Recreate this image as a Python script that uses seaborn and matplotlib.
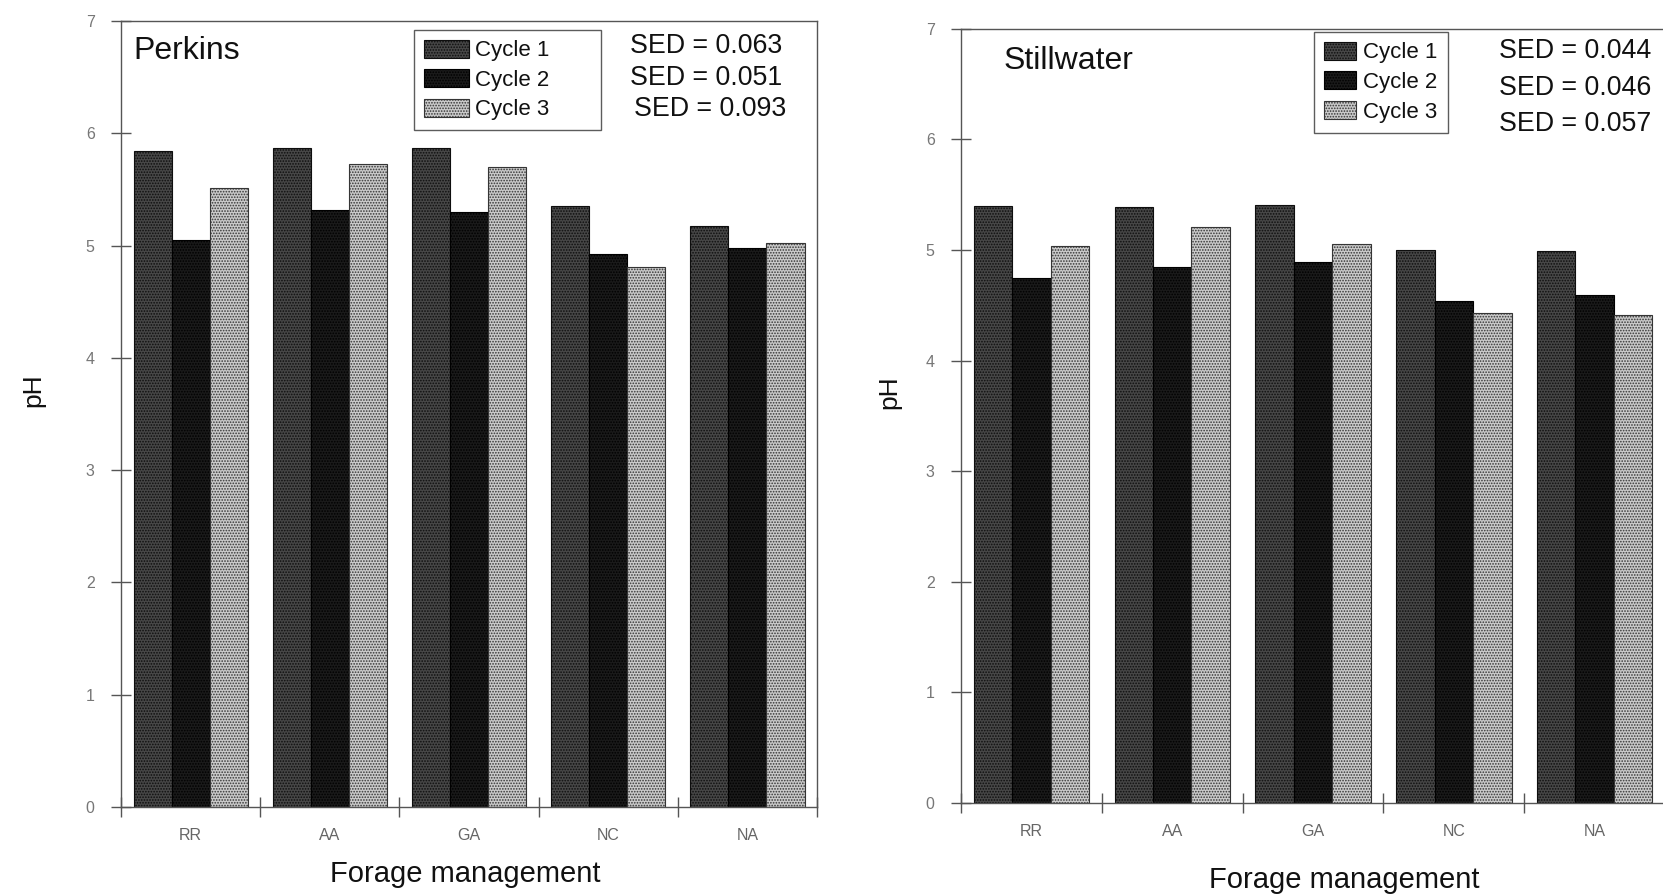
import numpy as np
import pandas as pd
import matplotlib
matplotlib.use("Agg")
import matplotlib.pyplot as plt
from matplotlib.patches import Patch
from matplotlib.ticker import FixedLocator
import seaborn as sns

# Forage management treatments and sampling cycles
managements = ["RR", "AA", "GA", "NC", "NA"]
cycles = ["Cycle 1", "Cycle 2", "Cycle 3"]

# Soil pH, Perkins site
perkins_c1 = [5.84, 5.87, 5.87, 5.35, 5.18]
perkins_c2 = [5.05, 5.32, 5.30, 4.93, 4.98]
perkins_c3 = [5.51, 5.73, 5.70, 4.81, 5.02]

# Soil pH, Stillwater site
stillwater_c1 = [5.40, 5.39, 5.41, 5.00, 4.99]
stillwater_c2 = [4.75, 4.85, 4.89, 4.54, 4.59]
stillwater_c3 = [5.04, 5.21, 5.05, 4.43, 4.41]

perkins_sed = ["SED = 0.063", "SED = 0.051", "SED = 0.093"]
stillwater_sed = ["SED = 0.044", "SED = 0.046", "SED = 0.057"]

y_ticks = [0, 1, 2, 3, 4, 5, 6, 7]

sns.set_theme(style="white")
plt.rcParams["font.family"] = ["Liberation Sans", "DejaVu Sans"]
plt.rcParams["hatch.linewidth"] = 0.8

bar_styles = {
    "Cycle 1": dict(facecolor="#474747", edgecolor="#0e0e0e", hatch="......"),
    "Cycle 2": dict(facecolor="#1a1a1a", edgecolor="#000000", hatch="......"),
    "Cycle 3": dict(facecolor="#cacaca", edgecolor="#353535", hatch="......"),
}


def long_frame(c1, c2, c3):
    rows = []
    for cyc, vals in zip(cycles, [c1, c2, c3]):
        for m, v in zip(managements, vals):
            rows.append({"management": m, "cycle": cyc, "pH": v})
    return pd.DataFrame(rows)


def draw_panel(ax, df, site, sed_lines, legend_box, handle_len, site_xy,
               sed_xs, sed_ys, xlabel_xy, ylabel_x):
    sns.barplot(data=df, x="management", y="pH", hue="cycle",
                order=managements, hue_order=cycles,
                palette=[bar_styles[c]["facecolor"] for c in cycles],
                saturation=1, width=0.82, gap=0, errorbar=None,
                legend=False, ax=ax)
    for cont, cyc in zip(ax.containers, cycles):
        st = bar_styles[cyc]
        for bar in cont:
            bar.set_facecolor(st["facecolor"])
            bar.set_edgecolor(st["edgecolor"])
            bar.set_hatch(st["hatch"])
            bar.set_linewidth(0.8)

    ax.set_xlim(-0.5, 4.5)
    ax.set_ylim(0, 7)
    ax.set_yticks(y_ticks)
    ax.set_yticklabels([str(t) for t in y_ticks])
    ax.set_xticks(range(len(managements)))
    ax.set_xticklabels(managements)
    ax.xaxis.set_minor_locator(FixedLocator(np.arange(-0.5, 5.0, 1.0)))
    ax.tick_params(axis="x", which="major", length=0, pad=15,
                   labelsize=11.5, labelcolor="#666666")
    ax.tick_params(axis="x", which="minor", bottom=True, direction="inout",
                   length=14, width=1.0, color="#555555")
    ax.tick_params(axis="y", left=True, direction="inout", length=14,
                   width=1.0, color="#555555", pad=12,
                   labelsize=11.5, labelcolor="#777777")
    for sp in ax.spines.values():
        sp.set_visible(True)
        sp.set_color("#555555")
        sp.set_linewidth(1.0)

    ax.set_xlabel("Forage management", fontsize=21, color="#111111")
    ax.xaxis.set_label_coords(*xlabel_xy)
    ax.set_ylabel("pH", fontsize=19, color="#111111")
    ax.yaxis.set_label_coords(ylabel_x, 0.53)

    ax.text(site_xy[0], site_xy[1], site, transform=ax.transAxes,
            fontsize=23, ha="left", va="center", color="#111111")
    for txt, xx, yy in zip(sed_lines, sed_xs, sed_ys):
        ax.text(xx, yy, txt, transform=ax.transAxes, fontsize=19.3,
                ha="center", va="center", color="#111111")

    handles = [Patch(facecolor=bar_styles[c]["facecolor"],
                     edgecolor=bar_styles[c]["edgecolor"],
                     hatch=bar_styles[c]["hatch"], linewidth=0.8)
               for c in cycles]
    leg = ax.legend(handles, cycles, loc="upper left",
                    bbox_to_anchor=legend_box, mode="expand",
                    frameon=True, fancybox=False, fontsize=16,
                    handlelength=handle_len, handleheight=0.85,
                    handletextpad=0.3, labelspacing=0.36, borderpad=0.45,
                    borderaxespad=0)
    leg.get_frame().set_edgecolor("#333333")
    leg.get_frame().set_linewidth(1.0)
    for t in leg.get_texts():
        t.set_color("#111111")


fig = plt.figure(figsize=(16.63, 8.94), dpi=100)
ax1 = fig.add_axes([0.0728, 0.0973, 0.4185, 0.879])
ax2 = fig.add_axes([0.5779, 0.1018, 0.4233, 0.866])

draw_panel(ax1, long_frame(perkins_c1, perkins_c2, perkins_c3), "Perkins",
           perkins_sed, (0.421, 0.989, 0.268, 0.0), 2.0, (0.017, 0.962),
           [0.840, 0.840, 0.846], [0.968, 0.928, 0.888], (0.495, -0.067),
           -0.109)
draw_panel(ax2, long_frame(stillwater_c1, stillwater_c2, stillwater_c3),
           "Stillwater", stillwater_sed, (0.5015, 0.996, 0.19, 0.0), 1.45,
           (0.060, 0.959), [0.872, 0.872, 0.872], [0.971, 0.923, 0.877],
           (0.545, -0.082), -0.085)

fig.savefig("out.png", dpi=100)
